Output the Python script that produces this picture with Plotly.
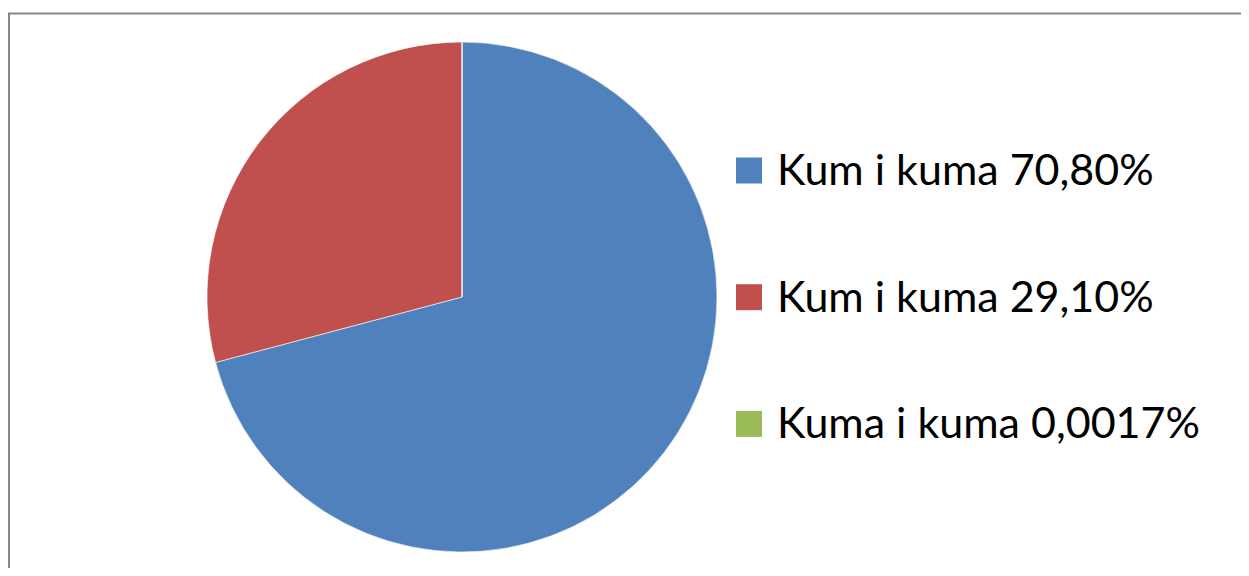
import plotly.graph_objects as go

labels = ["Kum i kuma 70,80%", "Kum i kuma 29,10%", "Kuma i kuma 0,0017%"]
values = [70.80, 29.10, 0.0017]
colors = ["#4F81BD", "#C0504D", "#9BBB59"]

# page body has an 8px margin; size figure so it fits the 1249x576 window
OFF = 8
W, H = 1249 - 2 * OFF, 576 - 2 * OFF


def px(x):
    return (x - OFF) / W


def py(y):
    return 1 - (y - OFF) / H


cx, cy, r = 462, 297, 255

fig = go.Figure()
fig.add_trace(go.Pie(
    labels=labels, values=values, sort=False, direction="clockwise", rotation=0,
    marker=dict(colors=colors, line=dict(color="rgba(255,255,255,0.6)", width=1)),
    textinfo="none", hoverinfo="label+value", showlegend=False,
    domain=dict(x=[px(cx - r), px(cx + r)], y=[py(cy + r), py(cy - r)]),
))

frame = dict(color="#878787", width=2)
shapes = [
    dict(type="line", xref="paper", yref="paper", x0=px(9), x1=px(9), y0=-0.02, y1=py(13.5), line=frame),
    dict(type="line", xref="paper", yref="paper", x0=px(8), x1=1.02, y0=py(13.5), y1=py(13.5), line=frame),
]
annotations = []
y0, dy = 170.5, 126.7
for i, (lab, col) in enumerate(zip(labels, colors)):
    yc = y0 + i * dy
    shapes.append(dict(type="rect", xref="paper", yref="paper",
                       x0=px(736), x1=px(762), y0=py(yc + 13), y1=py(yc - 13),
                       line=dict(width=0), fillcolor=col))
    annotations.append(dict(text=lab, xref="paper", yref="paper", x=px(775), y=py(yc - 2),
                            xanchor="left", yanchor="middle", showarrow=False,
                            font=dict(family="Lato", size=43, color="#000000")))

fig.update_layout(
    width=W, height=H, margin=dict(l=0, r=0, t=0, b=0),
    paper_bgcolor="white", plot_bgcolor="white",
    shapes=shapes, annotations=annotations,
)
fig.write_html("out.html", config={"displayModeBar": False})
